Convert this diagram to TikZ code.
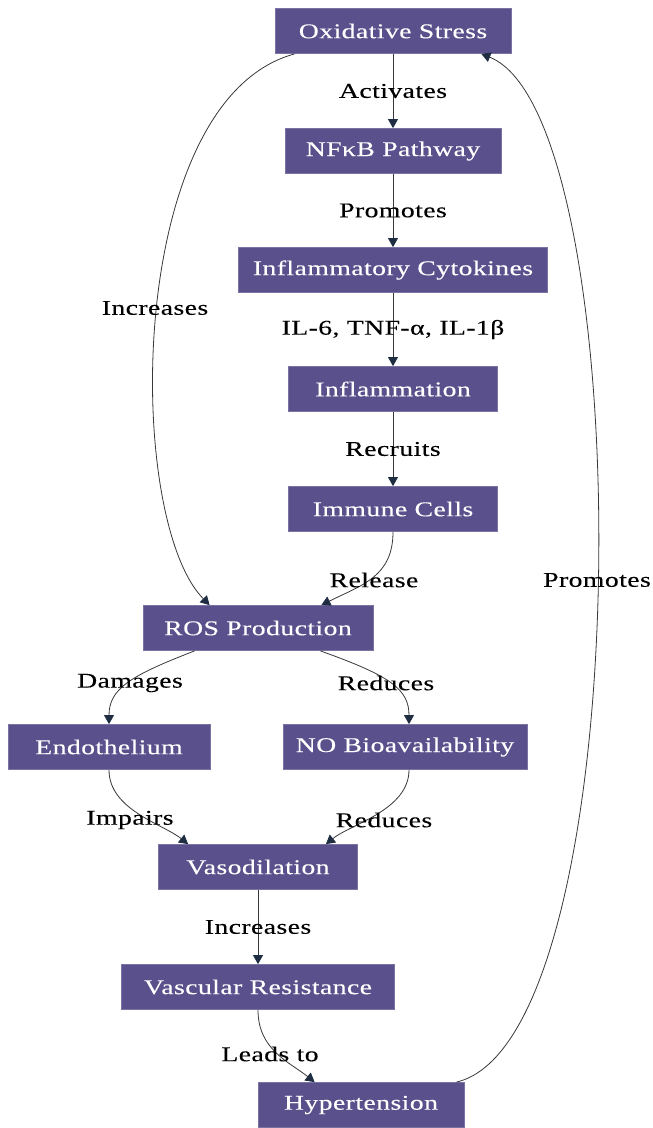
\documentclass[tikz,border=0pt]{standalone}
\usepackage{fontspec}
\setmainfont{Liberation Serif}[FakeStretch=1.32,LetterSpace=2,FakeBold=0.2]
\usetikzlibrary{arrows.meta}
\definecolor{boxfill}{RGB}{89,80,140}
\definecolor{linkcol}{RGB}{55,55,60}
\definecolor{tipcol}{RGB}{30,45,65}

\tikzset{
  box/.style={fill=boxfill,draw=boxfill!80!white,line width=0.8pt,text=white,
    minimum height=45pt,inner sep=0pt,font=\fontsize{21}{25}\selectfont},
  lbl/.style={text=black,inner sep=1pt,font=\fontsize{21}{25}\selectfont},
  link/.style={draw=linkcol,line width=0.8pt,
    -{Triangle[length=9pt,width=10pt,color=tipcol]}}
}

\begin{document}
\begin{tikzpicture}[x=1pt,y=-1pt]
\useasboundingbox (0,0) rectangle (653,1128);

\node[box,minimum width=236pt] (os) at (393,31) {Oxidative Stress};
\node[box,minimum width=216pt] (nfkb) at (393,151) {NFκB Pathway};
\node[box,minimum width=309pt] (cyto) at (393,270) {Inflammatory Cytokines};
\node[box,minimum width=209pt] (infl) at (393,389) {Inflammation};
\node[box,minimum width=209pt] (imm) at (393,509) {Immune Cells};
\node[box,minimum width=230pt] (ros) at (258,628) {ROS Production};
\node[box,minimum width=202pt] (endo) at (109,747) {Endothelium};
\node[box,minimum width=244pt] (no) at (405,747) {NO Bioavailability};
\node[box,minimum width=199pt] (vaso) at (258,867) {Vasodilation};
\node[box,minimum width=273pt] (vr) at (258,987) {Vascular Resistance};
\node[box,minimum width=206pt] (hyp) at (361,1105) {Hypertension};

\draw[link] (os) -- node[lbl] {Activates} (nfkb);
\draw[link] (nfkb) -- node[lbl] {Promotes} (cyto);
\draw[link] (cyto) -- node[lbl] {IL-6, TNF-α, IL-1β} (infl);
\draw[link] (infl) -- node[lbl] {Recruits} (imm);

\draw[link] ([xshift=20pt]os.south west) .. controls +(-170,46) and +(-85,-86) .. ([xshift=67pt]ros.north west)
  node[lbl] at (155,308) {Increases};
\draw[link] (imm.south) .. controls +(0,45) and +(40,-20) .. ([xshift=-52pt]ros.north east)
  node[lbl] at (374,580) {Release};

\draw[link] ([xshift=52pt]ros.south west) .. controls +(-65,25) and +(0,-35) .. (endo.north)
  node[lbl] at (130,683) {Damages};
\draw[link] ([xshift=-53pt]ros.south east) .. controls +(70,25) and +(0,-35) .. ([xshift=4pt]no.north)
  node[lbl] at (386,683) {Reduces};

\draw[link] (endo.south) .. controls +(0,40) and +(-25,-20) .. ([xshift=30pt]vaso.north west)
  node[lbl] at (130,820) {Impairs};
\draw[link] ([xshift=4pt]no.south) .. controls +(0,40) and +(25,-20) .. ([xshift=-32pt]vaso.north east)
  node[lbl] at (384,820) {Reduces};

\draw[link] (vaso) -- node[lbl] {Increases} (vr);
\draw[link] (vr.south) .. controls +(0,40) and +(-25,-20) .. ([xshift=57pt]hyp.north west)
  node[lbl] at (270,1054) {Leads to};

\draw[link] ([xshift=-8pt]hyp.north east) .. controls +(184,-43) and +(159,63) .. ([xshift=-30pt]os.south east)
  node[lbl] at (597,580) {Promotes};
\end{tikzpicture}
\end{document}
